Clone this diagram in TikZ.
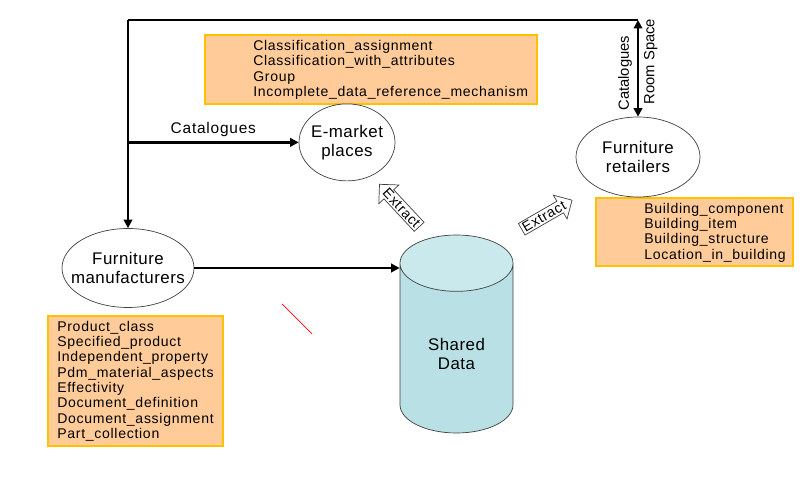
\documentclass[tikz,border=0pt]{standalone}
\usepackage{fontspec}
\setmainfont{Liberation Sans}
\newfontfamily\listfont[LetterSpace=5]{Liberation Sans}
\newfontfamily\bubblefont[LetterSpace=3]{Liberation Sans}
\usetikzlibrary{shapes.geometric,shapes.arrows,arrows.meta}

\definecolor{boxfill}{RGB}{255,204,153}
\definecolor{boxline}{RGB}{255,192,0}
\definecolor{cylbody}{RGB}{185,224,228}
\definecolor{cyltop}{RGB}{202,233,236}
\definecolor{rimgray}{RGB}{64,64,64}

\tikzset{
    flow/.style={line width=1.8pt, -{Triangle[length=6pt,width=6pt]}},
    bubble/.style={ellipse, draw=rimgray, line width=0.5pt, fill=white, inner sep=0pt,
        inner xsep=-0.45cm, align=center, font=\bubblefont\fontsize{12}{13.5}\selectfont},
    listbox/.style={rectangle, draw=boxline, line width=0.8pt, fill=boxfill},
    listtext/.style={anchor=west, align=left, inner sep=0pt, font=\listfont\fontsize{10}{10.9}\selectfont},
    extract/.style={single arrow, draw=rimgray, fill=white, line width=0.5pt, inner sep=1pt,
        single arrow head extend=5pt, font=\listfont\fontsize{10}{12}\selectfont}
}

\begin{document}
\begin{tikzpicture}
            \useasboundingbox (0, 0) rectangle (20, 12.5);

            %%lists
            \node[listbox, minimum width=8.3cm, minimum height=1.725cm] (emkbox) at(9.275, 10.7625){};
            \node[listtext] (emklist) at(6.325, 10.75){Classification\_assignment\\Classification\_with\_attributes\\Group\\Incomplete\_data\_reference\_mechanism};
            \node[listbox, minimum width=4.925cm, minimum height=1.7cm] (retbox) at(17.3625, 6.7){};
            \node[listtext] (retlist) at(16.1, 6.6875){Building\_component\\Building\_item\\Building\_structure\\Location\_in\_building};
            \node[listbox, minimum width=4.375cm, minimum height=3.25cm] (manbox) at(3.3875, 2.975){};
            \node[listtext] (manlist) at(1.425, 2.975){Product\_class\\Specified\_product\\Independent\_property\\Pdm\_material\_aspects\\Effectivity\\Document\_definition\\Document\_assignment\\Part\_collection};

            %%actors
            \node[bubble, minimum width=3.3cm, minimum height=1.975cm] (manuf) at(3.2, 5.8){Furniture\\manufacturers};
            \node[bubble, minimum width=2.4cm, minimum height=1.925cm] (emarket) at(8.675, 8.94){E-market\\places};
            \node[bubble, minimum width=3.1cm, minimum height=2cm] (retail) at(15.95, 8.575){Furniture\\retailers};
            \node[cylinder, shape border rotate=90, aspect=0.85, draw=rimgray, line width=0.5pt,
                cylinder uses custom fill, cylinder body fill=cylbody, cylinder end fill=cyltop,
                minimum height=4.95cm, minimum width=2.825cm, align=center, anchor=shape center,
                font=\bubblefont\fontsize{12}{13.5}\selectfont] (shared) at(11.4125, 4.15){Shared\\Data};

            %%flows
            \coordinate (tl) at(3.2, 12);
            \coordinate (tr) at(retail.north |- tl);
            \draw[line width=1.8pt] (tl) to (tr);
            \draw[flow] (tl) to (manuf.north);
            \draw[flow] (tl |- emarket.west) to node[midway, above, font=\listfont\fontsize{11}{12}\selectfont]{Catalogues} (emarket.west);
            \draw[flow, {Triangle[length=6pt,width=6pt]}-{Triangle[length=6pt,width=6pt]}] (tr) to
                node[pos=0.55, anchor=south, rotate=90, font=\fontsize{10.5}{12}\selectfont]{Catalogues}
                node[pos=0.43, anchor=north, rotate=90, font=\fontsize{10.5}{12}\selectfont]{Room Space} (retail.north);
            \draw[flow] (manuf.east) to (manuf.east -| shared.west);

            %%extract
            \node[extract, rotate=-47, shape border rotate=180] (ex1) at(10.04, 7.3){Extract};
            \node[extract, rotate=30] (ex2) at(13.6, 7.09){Extract};

            \draw[red, line width=0.5pt] (7.05, 4.9) to (7.8, 4.15);
\end{tikzpicture}
\end{document}
